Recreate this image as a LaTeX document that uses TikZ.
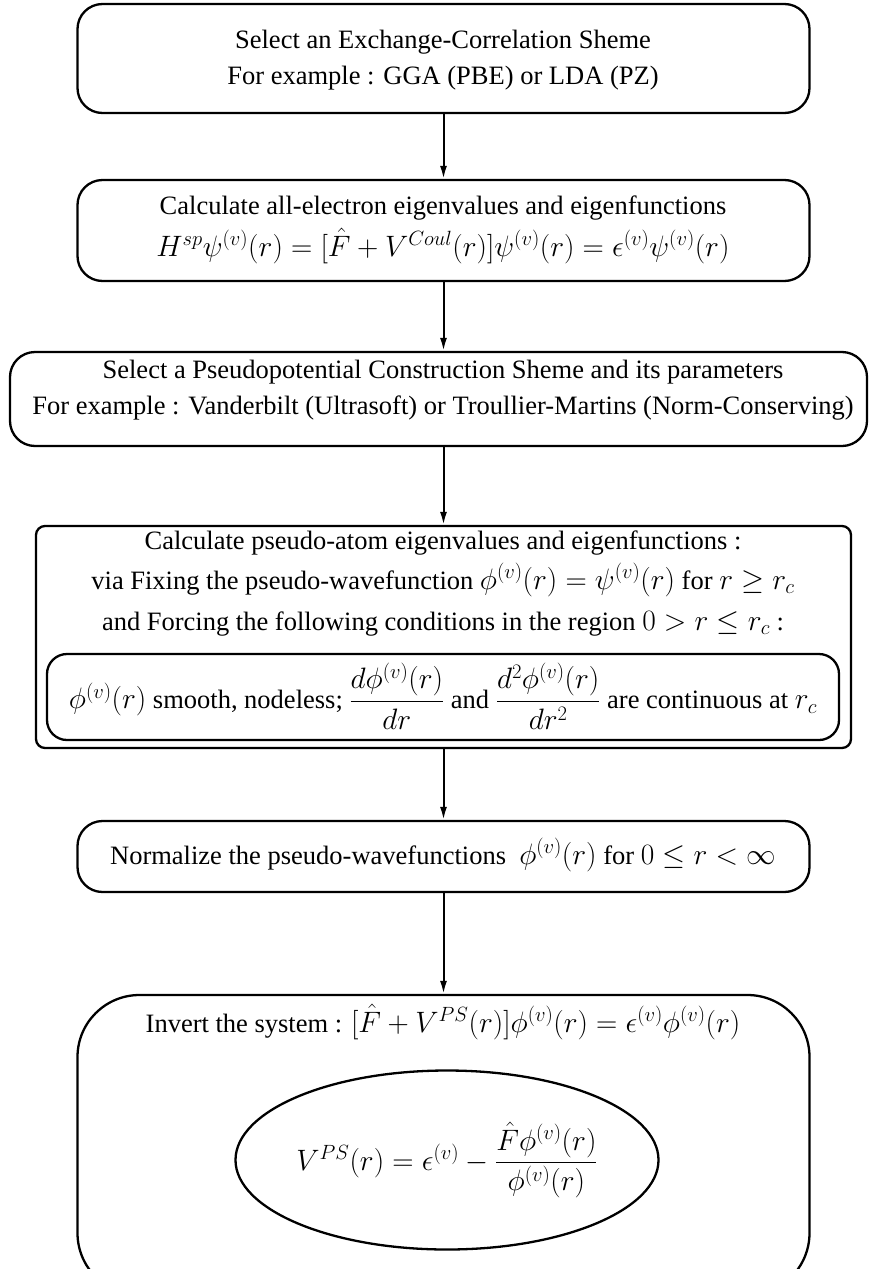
\RequirePackage{fix-cm}
\documentclass[tikz,border=0pt]{standalone}
\usepackage{amsmath}
\usepackage[no-math]{fontspec}
\setmainfont{Liberation Serif}
\DeclareMathSizes{26.5}{29.5}{20.6}{14.75}
\usetikzlibrary{arrows.meta,shapes.geometric}
\tikzset{
  box/.style={draw, line width=2.3pt, rounded corners=25pt, inner sep=0pt},
  txt/.style={inner sep=0pt, anchor=base},
  flow/.style={line width=2pt, -{Latex[length=13pt,width=7pt]}},
}
\begin{document}
\begin{tikzpicture}[x=1pt,y=-1pt]
\fontsize{26.5}{31}\selectfont
\useasboundingbox (0,0) rectangle (868,1269);
% box 1
\node[box, minimum width=732pt, minimum height=109pt] (b1) at (443.5,58.5) {};
\node[txt] (t1a) at (443,48) {Select an Exchange-Correlation Sheme};
\node[txt] (t1b) at (443,84) {For example : GGA (PBE) or LDA (PZ)};
% box 2
\node[box, minimum width=732pt, minimum height=101pt] (b2) at (443.5,230.5) {};
\node[txt] (t2a) at (443,214) {Calculate all-electron eigenvalues and eigenfunctions};
\node[txt] (t2b) at (443,256) {$H^{sp}\psi^{(v)}(r)=[\hat{F}+V^{Coul}(r)]\psi^{(v)}(r)=\epsilon^{(v)}\psi^{(v)}(r)$};
% box 3
\node[box, minimum width=857pt, minimum height=94pt] (b3) at (438.5,399) {};
\node[txt] (t3a) at (443,378) {Select a Pseudopotential Construction Sheme and its parameters};
\node[txt] (t3b) at (443,414) {For example : Vanderbilt (Ultrasoft) or Troullier-Martins (Norm-Conserving)};
% box 4
\node[box, rounded corners=9pt, minimum width=815pt, minimum height=222pt] (b4) at (443.5,637) {};
\node[txt] (t4a) at (443,549) {Calculate pseudo-atom eigenvalues and eigenfunctions :};
\node[txt] (t4b) at (443,589) {via Fixing the pseudo-wavefunction $\phi^{(v)}(r)=\psi^{(v)}(r)$ for $r\geq r_c$};
\node[txt] (t4c) at (443,630) {and Forcing the following conditions in the region $0>r\leq r_c$ :};
\node[box, rounded corners=20pt, minimum width=792pt, minimum height=86pt] (b4i) at (443,697) {};
\node[inner sep=0pt] (t4i) at (443,696) {$\phi^{(v)}(r)$ smooth, nodeless; $\dfrac{d\phi^{(v)}(r)}{dr}$ and $\dfrac{d^2\phi^{(v)}(r)}{dr^2}$ are continuous at $r_c$};
% box 5
\node[box, minimum width=732pt, minimum height=71pt] (b5) at (443.5,856.5) {};
\node[txt] (t5) at (443,864) {Normalize the pseudo-wavefunctions \ $\phi^{(v)}(r)$ for $0\leq r<\infty$};
% box 6
\node[box, rounded corners=62pt, minimum width=732pt, minimum height=300pt] (b6) at (443.5,1145) {};
\node[txt] (t6) at (443,1032) {Invert the system : $[\hat{F}+V^{PS}(r)]\phi^{(v)}(r)=\epsilon^{(v)}\phi^{(v)}(r)$};
\node[draw, line width=2.3pt, ellipse, inner sep=0pt, minimum width=423pt, minimum height=179pt] (el) at (447,1160) {};
\node[inner sep=0pt] (t6e) at (447,1160) {$V^{PS}(r)=\epsilon^{(v)}-\dfrac{\hat{F}\phi^{(v)}(r)}{\phi^{(v)}(r)}$};
% arrows
\draw[flow] (b1.south) -- (b2.north);
\draw[flow] (b2.south) -- (b2.south |- b3.north);
\draw[flow] (b2.south |- b3.south) -- (b4.north);
\draw[flow] (b4.south) -- (b5.north);
\draw[flow] (b5.south) -- (b6.north);
\end{tikzpicture}
\end{document}
